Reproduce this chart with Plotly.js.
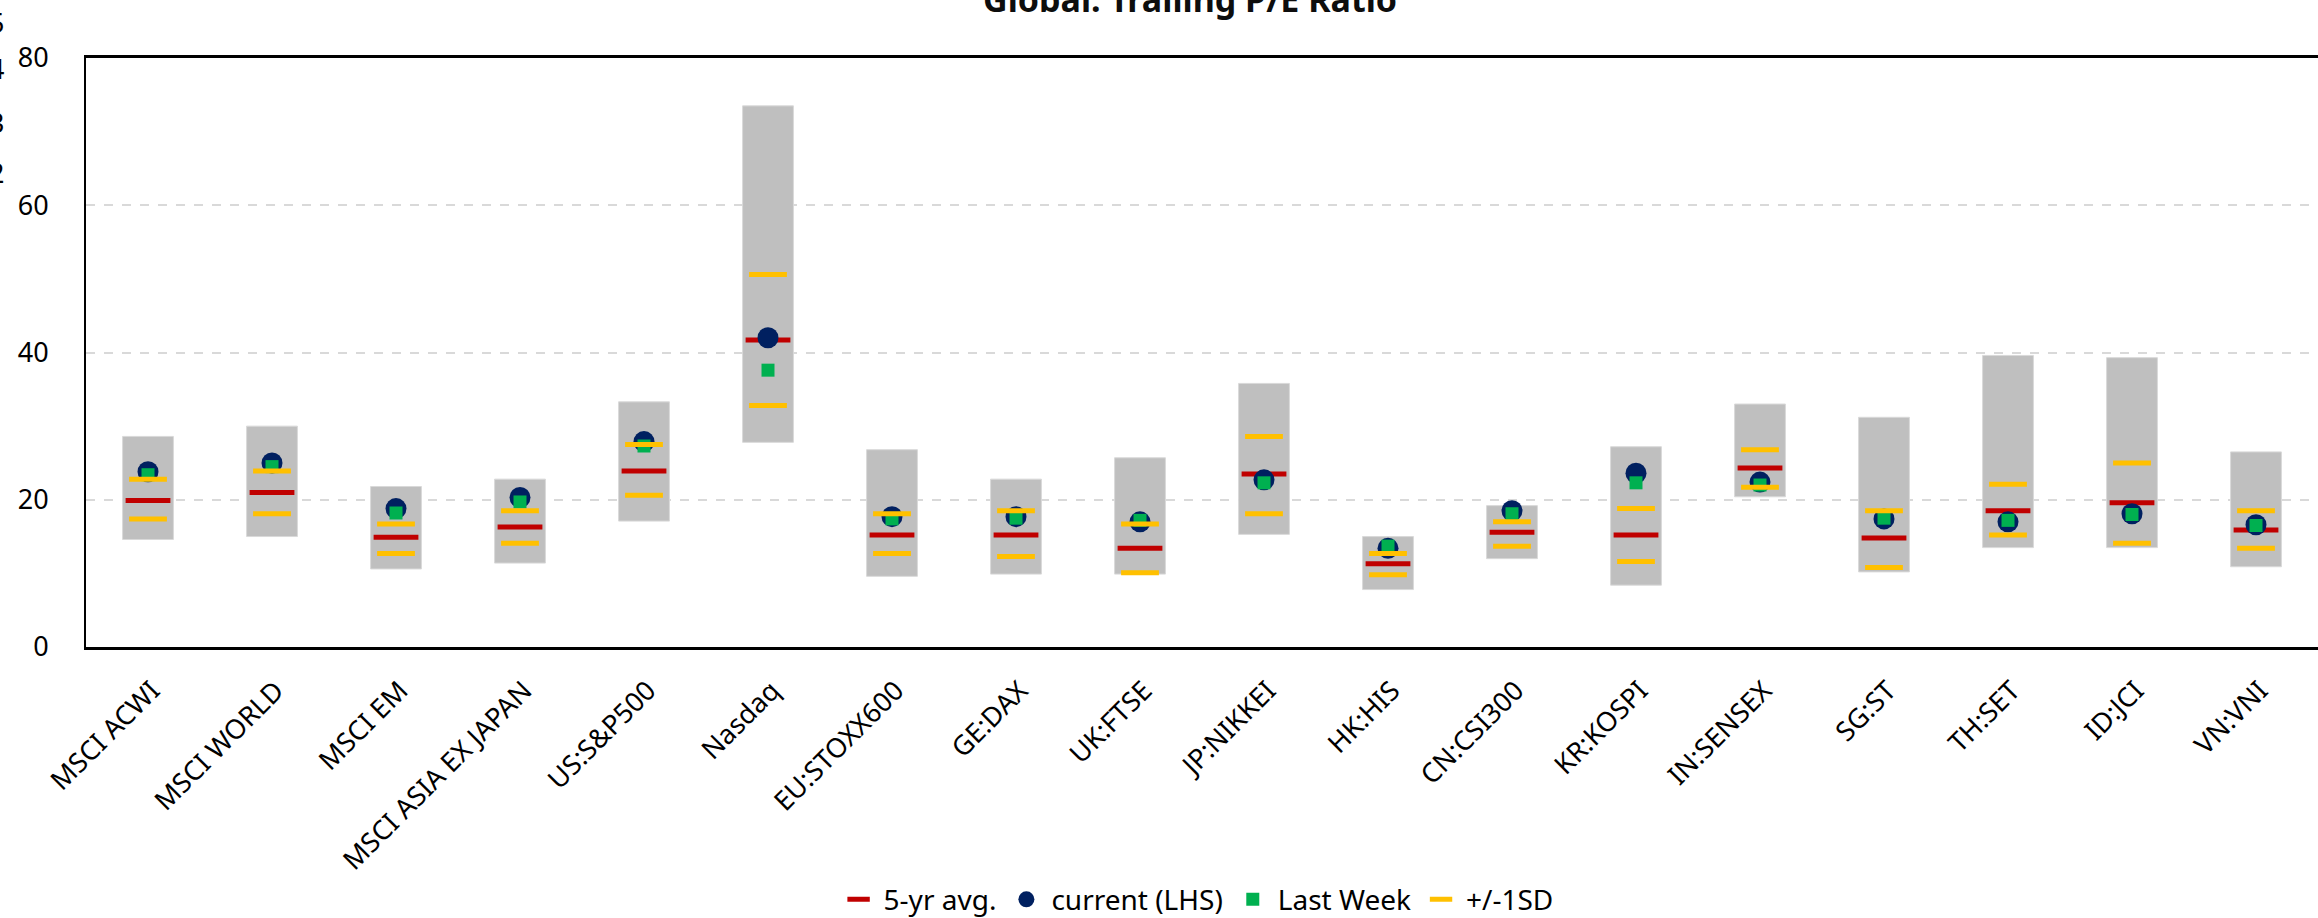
<!DOCTYPE html>
<html>
<head>
<meta charset="utf-8">
<script src="https://cdn.plot.ly/plotly-3.0.1.min.js"></script>
<style>html,body{margin:0;padding:0;background:#fff;}#chart{width:2318px;height:918px;}</style>
</head>
<body>
<div id="chart"></div>
<script>
const categories = ["MSCI ACWI","MSCI WORLD","MSCI EM","MSCI ASIA EX JAPAN","US:S&P500","Nasdaq","EU:STOXX600","GE:DAX","UK:FTSE","JP:NIKKEI","HK:HIS","CN:CSI300","KR:KOSPI","IN:SENSEX","SG:ST","TH:SET","ID:JCI","VN:VNI"];
const rangeLow  = [14.6, 15.0, 10.6, 11.4, 17.1, 27.8, 9.6, 9.9, 9.9, 15.3, 7.8, 12.0, 8.4, 20.4, 10.2, 13.5, 13.5, 10.9];
const rangeHigh = [28.6, 30.0, 21.8, 22.8, 33.3, 73.5, 26.8, 22.8, 25.7, 35.8, 15.0, 19.2, 27.2, 33.0, 31.2, 39.6, 39.3, 26.5];
const avg5      = [19.9, 21.0, 14.9, 16.3, 23.9, 41.7, 15.2, 15.2, 13.4, 23.5, 11.3, 15.6, 15.2, 24.3, 14.8, 18.5, 19.6, 15.9];
const current   = [23.8, 25.0, 18.8, 20.3, 27.9, 42.0, 17.7, 17.7, 17.0, 22.7, 13.4, 18.5, 23.6, 22.4, 17.4, 17.0, 18.1, 16.6];
const lastWeek  = [23.4, 24.5, 18.2, 19.7, 27.3, 37.6, 17.4, 17.5, 17.2, 22.3, 13.7, 18.1, 22.3, 22.0, 17.5, 17.2, 18.0, 16.5];
const sdUpper   = [22.8, 23.9, 16.7, 18.5, 27.5, 50.6, 18.1, 18.5, 16.7, 28.6, 12.7, 17.0, 18.8, 26.8, 18.5, 22.1, 25.0, 18.5];
const sdLower   = [17.4, 18.1, 12.7, 14.1, 20.6, 32.8, 12.7, 12.3, 10.1, 18.1, 9.8, 13.7, 11.6, 21.7, 10.8, 15.2, 14.1, 13.4];
const yTicks = [0, 20, 40, 60, 80];
const hiddenAxisLabels = ["5","4","3","2","1"];

const FONT = "Noto Sans, Open Sans, sans-serif";

const traces = [
  {
    type: "bar", x: categories, base: rangeLow,
    y: rangeHigh.map((h, i) => h - rangeLow[i]),
    width: 0.41,
    marker: {color: "#BFBFBF", line: {color: "#D9D9D9", width: 1}},
    showlegend: false, hoverinfo: "skip"
  },
  {
    type: "scatter", mode: "markers", name: "5-yr avg.", x: categories, y: avg5,
    marker: {symbol: "line-ew", size: 32, color: "#C00000", line: {color: "#C00000", width: 5}}
  },
  {
    type: "scatter", mode: "markers", name: "current (LHS)", x: categories, y: current,
    marker: {symbol: "circle", size: 21, color: "#002060"}
  },
  {
    type: "scatter", mode: "markers", name: "Last Week", x: categories, y: lastWeek,
    marker: {symbol: "square", size: 13, color: "#00B050"}
  },
  {
    type: "scatter", mode: "markers", name: "+/-1SD",
    x: categories.concat(categories), y: sdUpper.concat(sdLower),
    marker: {symbol: "line-ew", size: 27, color: "#FFC000", line: {color: "#FFC000", width: 5}}
  }
];

// partially visible labels of a second axis cut off at the left edge
const labelPix = [22, 68, 122, 172, 220];
const annotations = hiddenAxisLabels.map((t, i) => ({
  text: t, xref: "paper", yref: "paper", x: 0, xanchor: "right",
  xshift: -80, y: 1, yshift: 58 - labelPix[i], yanchor: "middle",
  showarrow: false, font: {family: FONT, size: 27, color: "#000"}
}));

const layout = {
  width: 2318, height: 918,
  margin: {l: 86, r: 0, t: 58, b: 271},
  paper_bgcolor: "#fff", plot_bgcolor: "#fff",
  font: {family: FONT, color: "#000"},
  title: {
    text: "<b>Global: Trailing P/E Ratio</b>",
    font: {family: FONT, size: 34, color: "#0D0D0D"},
    xref: "container", x: 0.5134, xanchor: "center",
    yref: "container", y: 1, yanchor: "middle"
  },
  xaxis: {
    type: "category", range: [-0.5, 17.5],
    showline: true, linecolor: "#000", linewidth: 3, mirror: true,
    showgrid: false, ticks: "", tickangle: -45,
    tickfont: {family: FONT, size: 27, color: "#000"},
    ticklabelstandoff: 14, ticklabelshift: 4
  },
  yaxis: {
    range: [0, 80], tickvals: yTicks, ticktext: yTicks.map(String),
    showline: true, linecolor: "#000", linewidth: 2,
    showgrid: true, gridcolor: "#D9D9D9", gridwidth: 2, griddash: "dash",
    zeroline: false, ticks: "",
    tickfont: {family: FONT, size: 27, color: "#000"},
    ticklabelstandoff: 30
  },
  barmode: "overlay",
  legend: {
    orientation: "h", xref: "container", x: 0.516, xanchor: "center",
    yref: "container", y: 0.02, yanchor: "middle",
    font: {family: FONT, size: 28, color: "#000"},
    itemwidth: 40
  },
  annotations: annotations,
  showlegend: true
};

Plotly.newPlot("chart", traces, layout, {displayModeBar: false, staticPlot: true});
</script>
</body>
</html>
